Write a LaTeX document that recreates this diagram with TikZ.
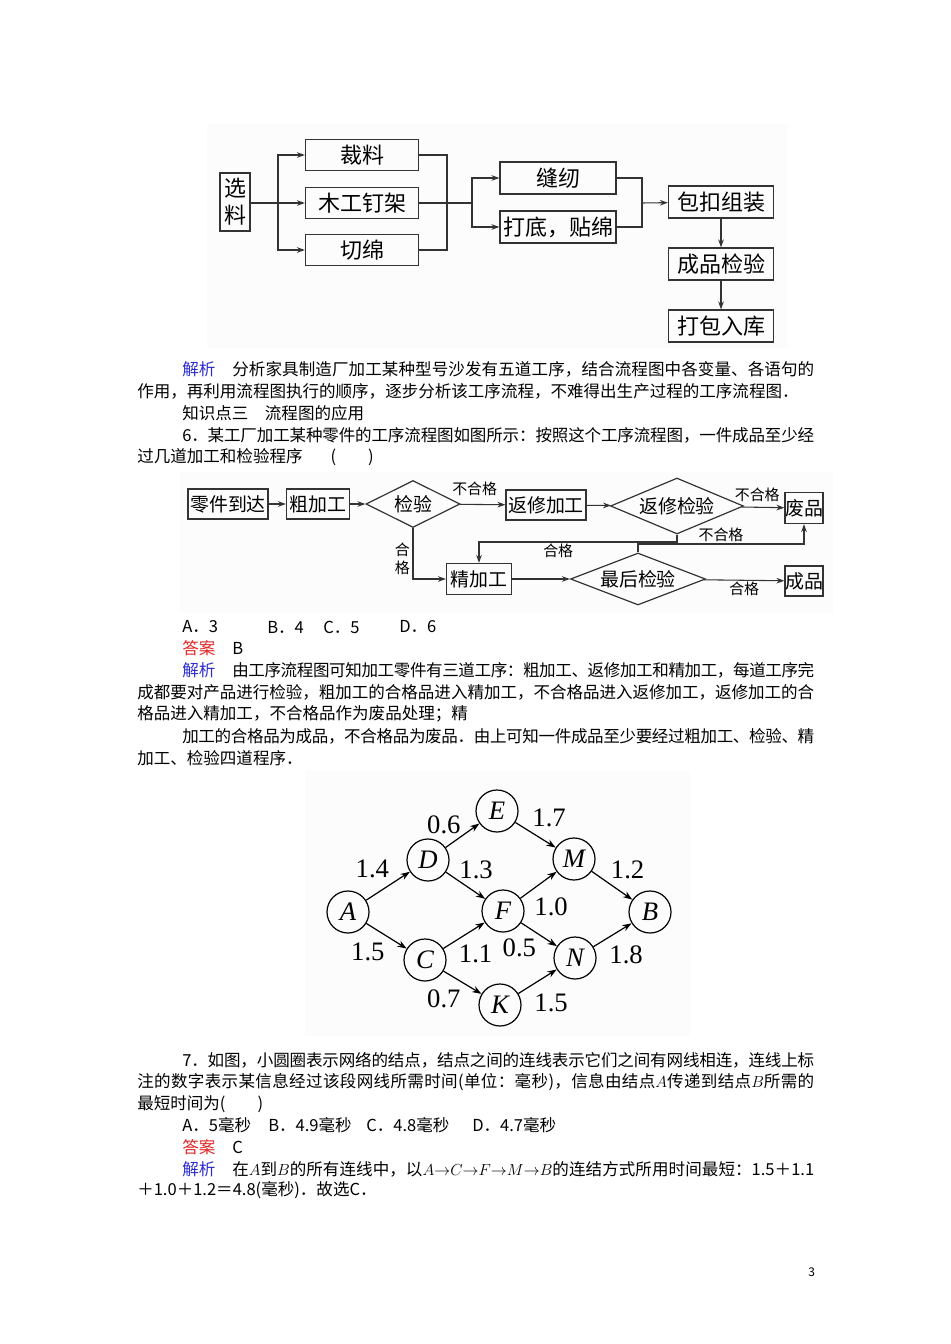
\documentclass[tikz,border=0pt]{standalone}
\usepackage{fontspec}
\setmainfont{Noto Sans CJK SC}
\newfontfamily\tnr{Liberation Serif}
\usetikzlibrary{arrows.meta,shapes.geometric}
\definecolor{jxblue}{RGB}{45,45,205}
\definecolor{darred}{RGB}{225,35,35}
\newcount\cjkc
\cjkc="3000
\loop\XeTeXcharclass\cjkc=7 \advance\cjkc by 1 \ifnum\cjkc<"3040 \repeat
\cjkc="4E00
\loop\XeTeXcharclass\cjkc=7 \advance\cjkc by 1 \ifnum\cjkc<"A000 \repeat
\cjkc="FF00
\loop\XeTeXcharclass\cjkc=7 \advance\cjkc by 1 \ifnum\cjkc<"FFF0 \repeat
\XeTeXinterchartoks 7 7 = {\hskip 0pt plus 3pt minus 0.6pt\relax}
\XeTeXinterchartoks 0 7 = {\hskip 0pt plus 3pt minus 0.6pt\relax}
\XeTeXinterchartoks 7 0 = {\hskip 0pt plus 3pt minus 0.6pt\relax}
\newcommand{\jl}[2]{\hbox to #1{\XeTeXinterchartokenstate=1 #2}}
\newcommand{\jx}{\textcolor{jxblue}{解析}}
\newcommand{\da}{\textcolor{darred}{答案}}

\begin{document}
\begin{tikzpicture}[x=0.75pt,y=0.75pt,yscale=-1,xscale=1,
	lin/.style={draw=black!80,line width=0.8pt},
	arr/.style={lin,-{Stealth[length=6pt,width=4.2pt]}},
	txt/.style={anchor=west,inner sep=0pt,font=\fontsize{12.4}{15}\selectfont},
	boxa/.style={draw=black!80,line width=0.9pt,inner sep=0pt,minimum width=84.75pt,minimum height=23.25pt,font=\fontsize{16.5}{20}\selectfont},
	boxb/.style={draw=black!80,line width=0.9pt,inner sep=0pt,minimum height=22.5pt,font=\fontsize{14.2}{17}\selectfont},
	dia/.style={diamond,draw=black!80,line width=0.9pt,inner sep=0pt,aspect=2.4,font=\fontsize{14.2}{17}\selectfont},
	lab/.style={inner sep=1pt,font=\fontsize{11.2}{13}\selectfont},
	vtx/.style={circle,draw=black,line width=0.9pt,inner sep=0pt,minimum size=31.5pt,font=\tnr\itshape\fontsize{20}{22}\selectfont},
	num/.style={inner sep=1pt,font=\tnr\fontsize{20}{22}\selectfont},
	edg/.style={draw=black,line width=0.9pt,-{Stealth[length=7pt,width=5pt]}}
]

	\fill[white] (0,0) rectangle (950,1344);
	\fill[black!1] (207,124) rectangle (787,348);
	\fill[black!1] (180,472) rectangle (833,613);
	\fill[black!1] (305,771) rectangle (690,1036);

	% sofa process
	\node[boxa,minimum width=22.5pt,minimum height=43.5pt,align=center,font=\fontsize{16.5}{20}\selectfont] (xl) at (235,202) {选\\料};
	\node[boxa] (cl) at (362,155) {裁料};
	\node[boxa] (mg) at (362,203) {木工钉架};
	\node[boxa] (qm) at (362,250) {切绵};
	\node[boxa,minimum width=87pt,minimum height=24pt] (fr) at (558,178) {缝纫};
	\node[boxa,minimum width=87pt,minimum height=24pt] (dd) at (558,227) {打底，贴绵};
	\node[boxa,minimum width=78.75pt,minimum height=24pt] (bk) at (721,202) {包扣组装};
	\node[boxa,minimum width=78.75pt,minimum height=24pt] (cj) at (721,264) {成品检验};
	\node[boxa,minimum width=78.75pt,minimum height=24pt] (db) at (721,326) {打包入库};
	\coordinate (j1) at (278,203);
	\coordinate (j2) at (447,203);
	\coordinate (j3) at (472,203);
	\coordinate (j4) at (642,203);
	\draw[lin] (xl.east |- j1) -- (j1);
	\draw[arr] (j1) |- (cl);
	\draw[arr] (j1) -- (mg);
	\draw[arr] (j1) |- (qm);
	\draw[lin] (cl) -| (j2);
	\draw[lin] (qm) -| (j2);
	\draw[lin] (mg) -- (j3);
	\draw[arr] (j3) |- (fr);
	\draw[arr] (j3) |- (dd);
	\draw[lin] (fr) -| (j4);
	\draw[lin] (dd) -| (j4);
	\draw[arr] (j4) -- (bk);
	\draw[arr] (bk) -- (cj);
	\draw[arr] (cj) -- (db);

	% part process
	\node[boxb,minimum width=60pt] (ljd) at (228,504) {零件到达};
	\node[boxb,minimum width=47.25pt] (cjg) at (318,504) {粗加工};
	\node[dia,minimum width=70.5pt,minimum height=35.25pt] (jy) at (413,504) {检验};
	\node[boxb,minimum width=60pt] (fxjg) at (546,505) {返修加工};
	\node[dia,minimum width=99.75pt,minimum height=42pt] (fxjy) at (677,506) {返修检验};
	\node[boxb,minimum width=28.5pt,minimum height=23.25pt] (fp) at (804,508) {废品};
	\node[boxb,minimum width=48.75pt,minimum height=23.25pt] (jjg) at (479,579) {精加工};
	\node[dia,minimum width=101.25pt,minimum height=39pt] (zhjy) at (638,579) {最后检验};
	\node[boxb,minimum width=28.5pt] (cp) at (804,581) {成品};
	\coordinate (c1) at (677,542);
	\coordinate (c2) at (638,544);
	\draw[arr] (ljd) -- (cjg);
	\draw[arr] (cjg) -- (jy);
	\draw[arr] (jy) -- node[lab,anchor=south,shift={(-8,7)}] {不合格} (fxjg);
	\draw[arr] (fxjy) -- (fp);
	\draw[arr] (fxjg) -- (fxjy);
	\draw[arr] (jy.south) |- node[lab,pos=0.3,left,align=center,inner sep=0pt,xshift=-2pt] {合\\格} (jjg);
	\draw[arr] (fxjy.south) -- (c1) -| node[lab,pos=0.3,below] {合格} (jjg.north);
	\draw[arr] (jjg) -- (zhjy);
	\draw[arr] (zhjy.north) -- (c2) -| node[lab,pos=0.25,above] {不合格} (fp.south);
	\draw[arr] (zhjy) -- node[lab,below] {合格} (cp);
	\path (fxjy.east) -- node[lab,anchor=south,shift={(-7,4)}] {不合格} (fp.west);

	% network
	\node[vtx] (A) at (348,912) {A};
	\node[vtx] (D) at (428,860) {D};
	\node[vtx] (E) at (497,811) {E};
	\node[vtx] (C) at (425,960) {C};
	\node[vtx] (F) at (503,911) {F};
	\node[vtx] (K) at (500,1005) {K};
	\node[vtx] (M) at (574,859) {M};
	\node[vtx] (N) at (575,958) {N};
	\node[vtx] (B) at (650,912) {B};
	\draw[edg] (A) -- node[num,anchor=south east,shift={(3,6)}] {1.4} (D);
	\draw[edg] (A) -- node[num,anchor=north east,shift={(0,-5)}] {1.5} (C);
	\draw[edg] (D) -- node[num,anchor=south east] {0.6} (E);
	\draw[edg] (D) -- node[num,anchor=south west,shift={(-8,5)}] {1.3} (F);
	\draw[edg] (C) -- node[num,anchor=north west,shift={(-7,-7)}] {1.1} (F);
	\draw[edg] (C) -- node[num,anchor=north east,shift={(0,-5)}] {0.7} (K);
	\draw[edg] (E) -- node[num,anchor=south west,shift={(-5,6)}] {1.7} (M);
	\draw[edg] (F) -- node[num,anchor=north west,shift={(-6,-11)}] {1.0} (M);
	\draw[edg] (F) -- node[num,anchor=north east,shift={(-1,-2)}] {0.5} (N);
	\draw[edg] (K) -- node[num,anchor=north west,shift={(-5,-10)}] {1.5} (N);
	\draw[edg] (M) -- node[num,anchor=south west,shift={(-3,5)}] {1.2} (B);
	\draw[edg] (N) -- node[num,anchor=north west,shift={(-5,-9)}] {1.8} (B);

	% text
	\node[txt] (t1) at (182,369) {\jx};
	\node[txt] (t2) at (232,369) {\jl{436.5pt}{分析家具制造厂加工某种型号沙发有五道工序，结合流程图中各变量、各语句的}};
	\node[txt] (t3) at (137,391) {作用，再利用流程图执行的顺序，逐步分析该工序流程，不难得出生产过程的工序流程图．};
	\node[txt] (t4) at (182,413) {知识点三\hspace{1em}流程图的应用};
	\node[txt] (t5) at (182,435) {\jl{474pt}{6．某工厂加工某种零件的工序流程图如图所示：按照这个工序流程图，一件成品至少经}};
	\node[txt] (t6) at (137,457) {过几道加工和检验程序\hspace{21pt}(\hspace{24pt})};
	\node[txt] (o1) at (182,627) {A．3};
	\node[txt] (o2) at (267,627) {B．4};
	\node[txt] (o3) at (323,627) {C．5};
	\node[txt] (o4) at (399,627) {D．6};
	\node[txt] (t7) at (182,648) {\da};
	\node[txt] (t8) at (232,648) {B};
	\node[txt] (t9) at (182,670) {\jx};
	\node[txt] (t10) at (232,670) {\jl{436.5pt}{由工序流程图可知加工零件有三道工序：粗加工、返修加工和精加工，每道工序完}};
	\node[txt] (t11) at (137,692) {\jl{507.75pt}{成都要对产品进行检验，粗加工的合格品进入精加工，不合格品进入返修加工，返修加工的合}};
	\node[txt] (t12) at (137,714) {格品进入精加工，不合格品作为废品处理；精};
	\node[txt] (t13) at (182,736) {\jl{474pt}{加工的合格品为成品，不合格品为废品．由上可知一件成品至少要经过粗加工、检验、精}};
	\node[txt] (t14) at (137,758) {加工、检验四道程序．};
	\node[txt] (t15) at (182,1060) {\jl{474pt}{7．如图，小圆圈表示网络的结点，结点之间的连线表示它们之间有网线相连，连线上标}};
	\node[txt] (t16) at (137,1082) {\jl{507.75pt}{注的数字表示某信息经过该段网线所需时间(单位：毫秒)，信息由结点$A$传递到结点$B$所需的}};
	\node[txt] (t17) at (137,1104) {最短时间为(\hspace{24pt})};
	\node[txt] (p1) at (182,1125) {A．5毫秒};
	\node[txt] (p2) at (268,1125) {B．4.9毫秒};
	\node[txt] (p3) at (366,1125) {C．4.8毫秒};
	\node[txt] (p4) at (472,1125) {D．4.7毫秒};
	\node[txt] (t18) at (182,1147) {\da};
	\node[txt] (t19) at (232,1147) {C};
	\node[txt] (t20) at (182,1169) {\jx};
	\node[txt] (t21) at (232,1169) {\jl{436.5pt}{在$A$到$B$的所有连线中，以$A{\to}C{\to}F{\to}M{\to}B$的连结方式所用时间最短：1.5＋1.1}};
	\node[txt] (t22) at (137,1190) {＋1.0＋1.2＝4.8(毫秒)．故选C．};
	\node[txt,font=\fontsize{9}{10}\selectfont] (pg) at (808,1272) {3};
\end{tikzpicture}
\end{document}
